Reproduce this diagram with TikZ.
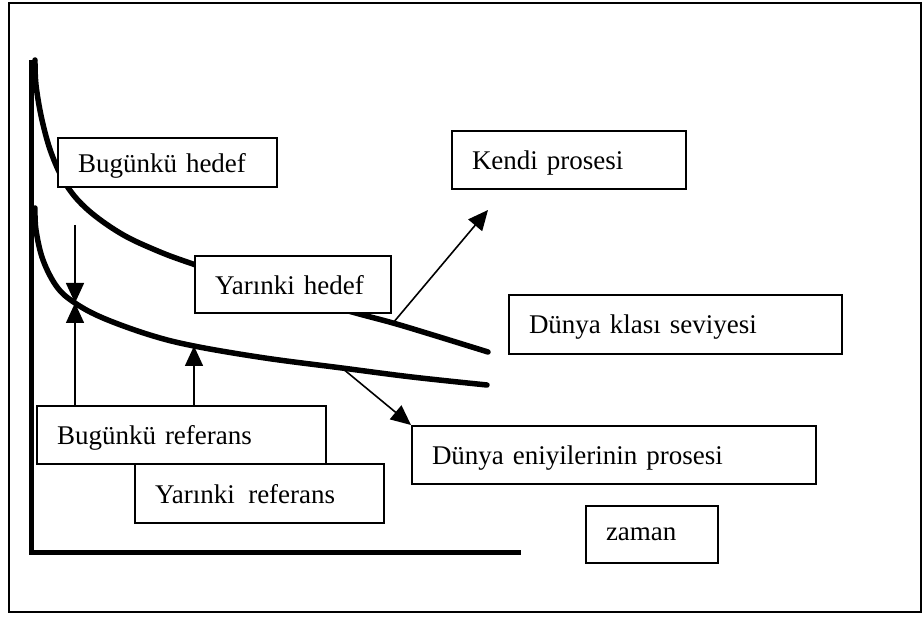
\documentclass[tikz,border=0pt]{standalone}
\usepackage{fontspec}
\setmainfont{Liberation Serif}
\usetikzlibrary{arrows.meta}
\begin{document}
\begin{tikzpicture}[x=1pt,y=-1pt,
  lbl/.style={draw, line width=2pt, fill=white, anchor=north west,
    inner xsep=20pt, inner ysep=0pt, align=left, text depth=0pt,
    font=\fontsize{27}{30}\selectfont},
  thick curve/.style={line width=5.5pt, line cap=round, line join=round},
  axisline/.style={line width=5pt},
  arr/.style={line width=1.6pt, -{Triangle[length=20pt,width=18pt]}}]
\useasboundingbox (0,0) rectangle (924,617);
% outer frame
\draw[line width=2pt] (9,3) rectangle (921,612);
% axes
\coordinate (o) at (31,552);
\coordinate (ytop) at (31,60);
\coordinate (xend) at (521,552);
\draw[axisline] (ytop) -- (o) -- (xend);
% points on the two curves
\coordinate (u1) at (35,60);
\coordinate (u2) at (36,85);
\coordinate (u3) at (42,120);
\coordinate (u4) at (52,155);
\coordinate (u5) at (67,186);
\coordinate (u6) at (88,210);
\coordinate (u7) at (120,233);
\coordinate (u8) at (153,249);
\coordinate (u9) at (190,263);
\coordinate (u10) at (270,289);
\coordinate (u11) at (352,312);
\coordinate (ku) at (393,323);
\coordinate (u12) at (433,335);
\coordinate (u13) at (488,352);
\coordinate (l1) at (35,208);
\coordinate (l2) at (36,230);
\coordinate (l3) at (43,260);
\coordinate (l4) at (57,287);
\coordinate (lb) at (75,303);
\coordinate (l5) at (103,318);
\coordinate (l6) at (150,335);
\coordinate (ly) at (194,346);
\coordinate (l7) at (265,358);
\coordinate (ld) at (342,368);
\coordinate (l8) at (412,377);
\coordinate (l9) at (487,385);
% target curve (upper) and reference curve (lower)
\draw[thick curve] plot[smooth, tension=0.6] coordinates
  {(u1) (u2) (u3) (u4) (u5) (u6) (u7) (u8) (u9) (u10) (u11) (ku) (u12) (u13)};
\draw[thick curve] plot[smooth, tension=0.6] coordinates
  {(l1) (l2) (l3) (l4) (lb) (l5) (l6) (ly) (l7) (ld) (l8) (l9)};
% labels
\node[lbl, text width=179pt, minimum height=49pt] (bh) at (57,137) {Bugünkü hedef};
\node[lbl, text width=194pt, minimum height=58pt] (kp) at (451,130) {Kendi prosesi};
\node[lbl, text width=156pt, minimum height=57pt] (yh) at (194,255) {Yarınki hedef};
\node[lbl, text width=293pt, minimum height=59pt] (dk) at (508,294) {Dünya klası seviyesi};
\node[lbl, text width=364pt, minimum height=58pt] (de) at (411,425) {Dünya eniyilerinin prosesi};
\node[lbl, text width=209pt, minimum height=59pt] (yr) at (134,463) {Yarınki\, referans};
\coordinate (yrs) at (194,463);
\draw[arr] (yrs) -- (ly);
\node[lbl, text width=249pt, minimum height=58pt] (br) at (36,405) {Bugünkü referans};
\node[lbl, text width=92pt, minimum height=57pt] (zm) at (585,505) {zaman};
% connectors
\coordinate (gtop) at (75,225);
\coordinate (brs) at (75,405);
\draw[arr] (gtop) -- (lb);
\draw[arr] (brs) -- (lb);
\coordinate (kend) at (488,210);
\draw[arr] (ku) -- (kend);
\draw[arr] (ld) -- (de.north west);
\end{tikzpicture}
\end{document}
